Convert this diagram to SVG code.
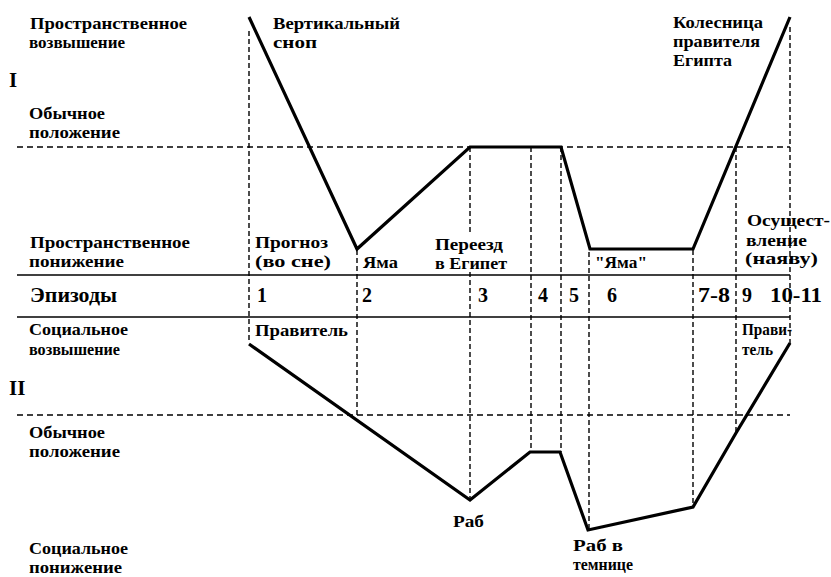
<svg xmlns="http://www.w3.org/2000/svg" width="831" height="577" viewBox="0 0 831 577">
<style>
text{font-family:"Liberation Serif","Times New Roman","DejaVu Serif",serif;font-weight:bold;fill:#000;font-size:17px}
.big{font-size:20px}
.roman{font-size:21px}
.curve{fill:none;stroke:#000;stroke-width:3.2;stroke-linejoin:miter}
.hd{stroke:#000;stroke-width:1.5;stroke-dasharray:6 4;fill:none}
.vd{stroke:#000;stroke-width:1.4;stroke-dasharray:5 3;fill:none}
.solid{stroke:#000;stroke-width:1.6;fill:none}
</style>
<rect width="831" height="577" fill="#fff"/>
<g id="connectors">
<line class="hd" x1="17" y1="147" x2="790" y2="147"/>
<line class="hd" x1="17" y1="415" x2="790" y2="415"/>
<line class="solid" x1="17" y1="275" x2="790" y2="275"/>
<line class="solid" x1="17" y1="317" x2="790" y2="317"/>
<line class="vd" x1="249" y1="31" x2="249" y2="343"/>
<line class="vd" x1="357" y1="250" x2="357" y2="415"/>
<line class="vd" x1="470" y1="147" x2="470" y2="232"/>
<line class="vd" x1="470" y1="272" x2="470" y2="500"/>
<line class="vd" x1="531" y1="147" x2="531" y2="452"/>
<line class="vd" x1="561" y1="147" x2="561" y2="452"/>
<line class="vd" x1="589" y1="252" x2="589" y2="530"/>
<line class="vd" x1="693" y1="250" x2="693" y2="507"/>
<line class="vd" x1="736" y1="147" x2="736" y2="433"/>
<line class="vd" x1="790" y1="27" x2="790" y2="345"/>
</g>
<g id="curve-I">
<polyline class="curve" points="249,17 357,249 470,147 561,147 590,249 693,249 790,17"/>
</g>
<g id="curve-II">
<polyline class="curve" points="249,344 470,500 530,452 560,452 588,530 693,507 736,433 790,343"/>
</g>
<g id="labels-left">
<text x="30" y="29" textLength="157" lengthAdjust="spacingAndGlyphs">Пространственное</text>
<text x="29" y="48" textLength="96" lengthAdjust="spacingAndGlyphs">возвышение</text>
<text class="roman" x="9" y="87">I</text>
<text x="29" y="119" textLength="76" lengthAdjust="spacingAndGlyphs">Обычное</text>
<text x="29" y="138" textLength="91" lengthAdjust="spacingAndGlyphs">положение</text>
<text x="30" y="248" textLength="160" lengthAdjust="spacingAndGlyphs">Пространственное</text>
<text x="29" y="267" textLength="95" lengthAdjust="spacingAndGlyphs">понижение</text>
<text class="big" x="30" y="302" textLength="87" lengthAdjust="spacingAndGlyphs">Эпизоды</text>
<text x="29" y="335" textLength="99" lengthAdjust="spacingAndGlyphs">Социальное</text>
<text x="29" y="355" textLength="91" lengthAdjust="spacingAndGlyphs">возвышение</text>
<text class="roman" x="9" y="395">II</text>
<text x="29" y="438" textLength="76" lengthAdjust="spacingAndGlyphs">Обычное</text>
<text x="29" y="457" textLength="91" lengthAdjust="spacingAndGlyphs">положение</text>
<text x="29" y="554" textLength="99" lengthAdjust="spacingAndGlyphs">Социальное</text>
<text x="29" y="573" textLength="93" lengthAdjust="spacingAndGlyphs">понижение</text>
</g>
<g id="labels-top">
<text x="273" y="29" textLength="127" lengthAdjust="spacingAndGlyphs">Вертикальный</text>
<text x="273" y="48" textLength="44" lengthAdjust="spacingAndGlyphs">сноп</text>
<text x="673" y="28" textLength="90" lengthAdjust="spacingAndGlyphs">Колесница</text>
<text x="673" y="47" textLength="87" lengthAdjust="spacingAndGlyphs">правителя</text>
<text x="673" y="66" textLength="59" lengthAdjust="spacingAndGlyphs">Египта</text>
</g>
<g id="labels-mid">
<text x="255" y="248" textLength="73" lengthAdjust="spacingAndGlyphs">Прогноз</text>
<text x="255" y="267" textLength="76" lengthAdjust="spacingAndGlyphs">(во сне)</text>
<text x="363" y="268" textLength="35" lengthAdjust="spacingAndGlyphs">Яма</text>
<text x="435" y="250" textLength="68" lengthAdjust="spacingAndGlyphs">Переезд</text>
<text x="435" y="269" textLength="72" lengthAdjust="spacingAndGlyphs">в Египет</text>
<text x="595" y="268" textLength="52" lengthAdjust="spacingAndGlyphs">"Яма"</text>
<text x="747" y="226" textLength="83" lengthAdjust="spacingAndGlyphs">Осущест-</text>
<text x="746" y="246" textLength="61" lengthAdjust="spacingAndGlyphs">вление</text>
<text x="745" y="264" textLength="73" lengthAdjust="spacingAndGlyphs">(наяву)</text>
</g>
<g id="episodes">
<text class="big" x="257" y="302">1</text>
<text class="big" x="362" y="302">2</text>
<text class="big" x="478" y="302">3</text>
<text class="big" x="538" y="302">4</text>
<text class="big" x="569" y="302">5</text>
<text class="big" x="607" y="302">6</text>
<text class="big" x="698" y="302" textLength="32" lengthAdjust="spacingAndGlyphs">7-8</text>
<text class="big" x="742" y="302">9</text>
<text class="big" x="770" y="302" textLength="52" lengthAdjust="spacingAndGlyphs">10-11</text>
</g>
<g id="labels-bottom">
<text x="255" y="336" textLength="93" lengthAdjust="spacingAndGlyphs">Правитель</text>
<text x="742" y="335" textLength="50" lengthAdjust="spacingAndGlyphs">Прави-</text>
<text x="742" y="355" textLength="31" lengthAdjust="spacingAndGlyphs">тель</text>
<text x="453" y="527" textLength="31" lengthAdjust="spacingAndGlyphs">Раб</text>
<text x="573" y="551" textLength="50" lengthAdjust="spacingAndGlyphs">Раб в</text>
<text x="573" y="570" textLength="60" lengthAdjust="spacingAndGlyphs">темнице</text>
</g>
</svg>
